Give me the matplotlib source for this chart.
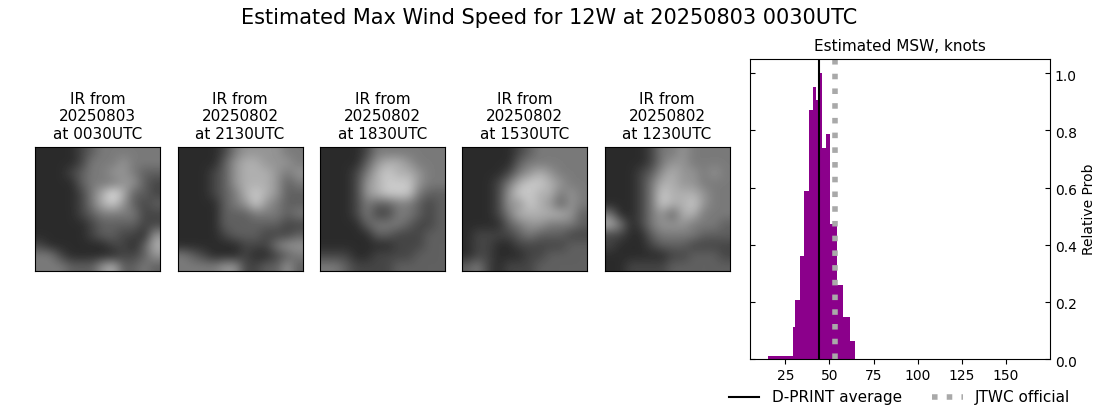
"""Estimated MSW figure: five IR thumbnails plus a histogram"""
import numpy as np
import matplotlib
matplotlib.use("Agg")
import matplotlib.pyplot as plt
from matplotlib.transforms import ScaledTranslation

W, H = 1100, 409

title = "Estimated Max Wind Speed for 12W at 20250803 0030UTC"
ir_titles = ["IR from\n20250803\nat 0030UTC", "IR from\n20250802\nat 2130UTC", "IR from\n20250802\nat 1830UTC",
             "IR from\n20250802\nat 1530UTC", "IR from\n20250802\nat 1230UTC"]

# coarse brightness (0 black - 10 white)
ir_1 = [[2, 2, 2, 2, 3, 4, 5, 5, 5, 5, 5, 5],
        [2, 2, 2, 2, 3, 5, 5, 5, 6, 5, 5, 5],
        [2, 2, 2, 3, 4, 5, 5, 6, 6, 5, 4, 4],
        [2, 2, 2, 2, 4, 5, 5, 5, 6, 6, 4, 3],
        [2, 2, 2, 2, 3, 5, 7, 9, 7, 4, 4, 3],
        [2, 2, 2, 2, 3, 5, 7, 8, 6, 4, 3, 4],
        [2, 2, 2, 2, 3, 4, 5, 5, 5, 5, 3, 3],
        [2, 2, 2, 2, 2, 3, 4, 4, 4, 4, 3, 3],
        [2, 2, 2, 2, 2, 3, 4, 4, 3, 3, 2, 6],
        [3, 2, 2, 2, 2, 2, 2, 3, 3, 2, 4, 7],
        [5, 5, 3, 2, 2, 2, 2, 2, 3, 3, 4, 6],
        [5, 5, 5, 4, 4, 4, 6, 7, 4, 4, 5, 4]]
ir_2 = [[2, 2, 2, 2, 3, 5, 6, 6, 6, 6, 5, 5],
        [2, 2, 2, 2, 4, 6, 7, 7, 6, 6, 6, 5],
        [2, 2, 2, 3, 4, 6, 7, 7, 7, 6, 5, 6],
        [2, 2, 2, 3, 4, 6, 7, 7, 7, 6, 4, 5],
        [2, 2, 2, 3, 4, 5, 7, 8, 7, 6, 4, 4],
        [2, 2, 2, 2, 4, 5, 6, 8, 6, 5, 4, 4],
        [2, 2, 2, 2, 4, 4, 4, 5, 5, 5, 4, 5],
        [2, 2, 2, 2, 4, 4, 4, 4, 4, 4, 3, 3],
        [2, 2, 2, 2, 3, 4, 4, 4, 3, 3, 3, 4],
        [2, 2, 2, 2, 2, 2, 3, 3, 3, 5, 6, 6],
        [5, 4, 3, 2, 2, 2, 3, 2, 2, 3, 4, 5],
        [5, 5, 5, 5, 6, 6, 3, 3, 4, 4, 6, 4]]
ir_3 = [[2, 2, 2, 2, 3, 5, 5, 5, 5, 5, 5, 5],
        [2, 2, 2, 2, 4, 6, 7, 7, 6, 5, 5, 5],
        [2, 2, 2, 3, 5, 7, 8, 7, 7, 6, 5, 5],
        [2, 2, 2, 3, 6, 7, 8, 8, 8, 6, 5, 5],
        [2, 2, 2, 3, 6, 7, 8, 8, 8, 5, 4, 4],
        [2, 2, 2, 3, 5, 4, 4, 5, 5, 4, 3, 4],
        [2, 2, 2, 3, 5, 3, 3, 5, 5, 4, 3, 4],
        [2, 2, 2, 2, 4, 5, 5, 5, 4, 3, 3, 4],
        [2, 2, 2, 2, 2, 4, 4, 3, 3, 3, 4, 4],
        [2, 2, 2, 2, 2, 2, 2, 3, 3, 3, 4, 4],
        [3, 3, 3, 2, 2, 3, 3, 3, 3, 4, 4, 4],
        [5, 5, 4, 3, 3, 3, 3, 4, 4, 4, 4, 4]]
ir_4 = [[2, 2, 2, 2, 2, 3, 4, 5, 5, 5, 5, 5],
        [2, 2, 2, 2, 2, 4, 5, 5, 5, 5, 5, 5],
        [2, 2, 2, 2, 3, 5, 6, 7, 6, 5, 5, 5],
        [2, 2, 2, 3, 5, 7, 8, 8, 7, 6, 5, 5],
        [2, 2, 2, 3, 6, 8, 8, 7, 7, 5, 6, 5],
        [2, 2, 2, 3, 6, 6, 8, 7, 6, 4, 6, 5],
        [2, 2, 2, 3, 5, 7, 7, 7, 7, 7, 6, 4],
        [2, 2, 2, 2, 4, 5, 6, 6, 5, 5, 5, 4],
        [2, 3, 3, 3, 3, 4, 5, 4, 4, 4, 3, 3],
        [2, 3, 3, 2, 2, 3, 3, 3, 3, 3, 4, 4],
        [2, 3, 3, 2, 2, 2, 3, 3, 4, 4, 4, 4],
        [4, 5, 3, 2, 3, 3, 3, 4, 4, 4, 4, 4]]
ir_5 = [[2, 2, 2, 2, 3, 5, 5, 6, 5, 5, 5, 5],
        [2, 2, 2, 2, 3, 5, 6, 6, 5, 5, 5, 5],
        [2, 2, 2, 3, 4, 6, 7, 6, 6, 5, 6, 5],
        [2, 2, 2, 3, 5, 7, 7, 6, 6, 5, 5, 5],
        [2, 2, 2, 3, 5, 8, 7, 7, 7, 6, 5, 5],
        [2, 2, 2, 3, 5, 8, 7, 7, 8, 6, 5, 5],
        [5, 2, 2, 3, 5, 6, 4, 7, 7, 5, 5, 5],
        [7, 5, 2, 3, 5, 6, 6, 6, 5, 5, 5, 4],
        [3, 3, 2, 2, 4, 5, 5, 5, 5, 4, 4, 4],
        [3, 2, 2, 2, 3, 4, 4, 4, 3, 3, 3, 3],
        [2, 2, 2, 2, 2, 2, 3, 3, 4, 4, 4, 3],
        [2, 2, 3, 3, 3, 3, 4, 4, 4, 4, 4, 4]]
ir_images = [ir_1, ir_2, ir_3, ir_4, ir_5]
ir_left_px = [35, 177.5, 320, 462, 604.5]

# histogram of estimated MSW
bin_edges = [15.2, 29.4, 30.5, 33.3, 35.6, 38.4, 40.7, 42.2, 43.3, 44.7, 45.8, 48.1, 50.4, 54.3, 57.7, 61.7, 64.5]
bin_probs = [0.012, 0.113, 0.207, 0.361, 0.589, 0.872, 0.952, 0.907, 0.907, 1.0, 0.74, 0.788, 0.473, 0.26, 0.147, 0.064]
dprint_avg = 44.1
jtwc_official = 53.2


def px_axes(fig, left, top, width, height):
    return fig.add_axes([left / W, 1 - (top + height) / H, width / W, height / H])


fig = plt.figure(figsize=(W / 100, H / 100), dpi=100)
fig.text(549.5 / W, 1 - 18 / H, title, ha='center', va='center', fontsize=15)

for img, lab, left in zip(ir_images, ir_titles, ir_left_px):
    ax = px_axes(fig, left, 147, 125, 124)
    ax.imshow(img, cmap='gray', vmin=0.4, vmax=10, interpolation='bicubic', aspect='auto')
    ax.set_xticks([]); ax.set_yticks([])
    ax.set_title(lab, fontsize=11, pad=6)

ax = px_axes(fig, 750, 59, 300, 300)
ax.bar(bin_edges[:-1], bin_probs, width=np.diff(bin_edges), align='edge', color='darkmagenta')
ax.axvline(dprint_avg, color='black', linewidth=1.5, label='D-PRINT average')
ax.axvline(jtwc_official, color='darkgray', linestyle=':', linewidth=4, label='JTWC official')
ax.set_xlim(5, 175)
ax.set_ylim(0, 1.05)
ax.set_xticks([25, 50, 75, 100, 125, 150])
ax.yaxis.tick_right()
ax.yaxis.set_label_position('right')
ax.tick_params(axis='y', direction='in', left=True, right=True)
# tick labels sit a little under their ticks in the original
for lab in ax.get_yticklabels():
    lab.set_transform(lab.get_transform() + ScaledTranslation(0, -1.5 / 72, fig.dpi_scale_trans))
ax.set_ylabel("Relative Prob")
ax.set_title("Estimated MSW, knots", fontsize=11, pad=6)
fig.legend(*ax.get_legend_handles_labels(), loc='lower right', bbox_to_anchor=(0.9856, -0.025),
           ncol=2, frameon=False, fontsize=11)

plt.savefig("out.png", dpi=100)
plt.close()
